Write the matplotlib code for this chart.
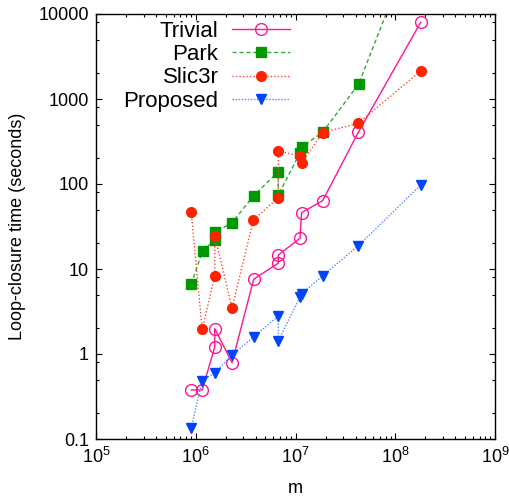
import numpy as np
import matplotlib
matplotlib.use("Agg")
import matplotlib.pyplot as plt
from matplotlib.ticker import LogLocator, FixedLocator, FixedFormatter, NullFormatter

plt.rcParams["font.family"] = ["Liberation Sans", "DejaVu Sans"]
plt.rcParams["mathtext.fontset"] = "custom"
plt.rcParams["mathtext.rm"] = "Liberation Sans"
plt.rcParams["mathtext.it"] = "Liberation Sans:italic"

# data (m, seconds)
trivial_m = [9.0e5, 1.16e6, 1.55e6, 1.55e6, 2.31e6, 3.81e6, 6.72e6, 6.72e6,
             1.11e7, 1.15e7, 1.87e7, 4.26e7, 1.8e8]
trivial_t = [0.377, 0.377, 1.21, 1.99, 0.79, 7.6, 11.7, 14.6,
             23.0, 46.0, 63.6, 405, 7980]

park_m = [9.0e5, 1.17e6, 1.56e6, 1.56e6, 2.31e6, 3.81e6, 6.72e6, 6.72e6,
          1.11e7, 1.16e7, 1.87e7, 4.3e7, 1.8e8]
park_t = [6.6, 16.4, 21.9, 27.0, 35.0, 72.8, 139.6, 74.3,
          233, 275, 405, 1500, 1.1e5]

slic3r_m = [9.0e5, 1.16e6, 1.55e6, 1.55e6, 2.31e6, 3.78e6, 6.72e6, 6.72e6,
            1.11e7, 1.15e7, 1.87e7, 4.26e7, 1.8e8]
slic3r_t = [47.2, 1.95, 8.3, 24.7, 3.48, 37.7, 69.0, 246,
            213, 175, 402, 518, 2135]

proposed_m = [9.0e5, 1.16e6, 1.55e6, 2.31e6, 3.81e6, 6.72e6, 6.72e6,
              1.11e7, 1.15e7, 1.87e7, 4.26e7, 1.8e8]
proposed_t = [0.136, 0.485, 0.60, 0.98, 1.58, 2.8, 1.43,
              4.7, 5.1, 8.3, 18.8, 97]

y_ticks = [0.1, 1, 10, 100, 1000, 10000]
y_tick_labels = ["0.1", "1", "10", "100", "1000", "10000"]
x_ticks = [1e5, 1e6, 1e7, 1e8, 1e9]
x_tick_labels = ["$10^{5}$", "$10^{6}$", "$10^{7}$", "$10^{8}$", "$10^{9}$"]

fig = plt.figure(figsize=(5.09, 4.99), dpi=100)
ax = fig.add_axes([96 / 509, 1 - 439 / 499, 399 / 509, 425 / 499])

ax.plot(trivial_m, trivial_t, color="#ff1493", lw=1.0, ls="-",
        marker="o", ms=8.5, mfc="none", mec="#ff1493", mew=1.0, label="Trivial")
ax.plot(park_m, park_t, color="#33aa33", lw=1.0, ls=(0, (3, 2)),
        marker="s", ms=7.5, mfc="#009900", mec="#009900", label="Park")
ax.plot(slic3r_m, slic3r_t, color="#ff4433", lw=1.0, ls=(0, (1, 1.5)),
        marker="o", ms=7, mfc="#ff2200", mec="#ff2200", label="Slic3r")
ax.plot(proposed_m, proposed_t, color="#5588ff", lw=1.0, ls=(0, (1, 1.2)),
        marker="v", ms=7, mfc="#0044ff", mec="#0044ff", label="Proposed")

ax.set_xscale("log")
ax.set_yscale("log")
ax.set_xlim(1e5, 1e9)
ax.set_ylim(0.1, 10000)

ax.xaxis.set_major_locator(FixedLocator(x_ticks))
ax.xaxis.set_major_formatter(FixedFormatter(x_tick_labels))
ax.xaxis.set_minor_locator(LogLocator(base=10, subs=np.arange(2, 10)))
ax.xaxis.set_minor_formatter(NullFormatter())
ax.yaxis.set_major_locator(FixedLocator(y_ticks))
ax.yaxis.set_major_formatter(FixedFormatter(y_tick_labels))
ax.yaxis.set_minor_locator(LogLocator(base=10, subs=[2, 5, 8]))
ax.yaxis.set_minor_formatter(NullFormatter())

ax.tick_params(which="both", direction="in", top=True, right=True, labelsize=13)
ax.tick_params(which="major", length=4, width=0.8)
ax.tick_params(which="minor", length=2.2, width=0.8)
ax.tick_params(axis="x", which="major", pad=6)
ax.tick_params(axis="y", which="major", pad=5)
for s in ax.spines.values():
    s.set_linewidth(1.0)

ax.set_xlabel("m", fontsize=13, labelpad=9)
ax.set_ylabel("Loop-closure time (seconds)", fontsize=13, labelpad=9)

ax.legend(loc="upper right", bbox_to_anchor=(290 / 509, 1 - 21 / 499),
          bbox_transform=fig.transFigure, frameon=False, markerfirst=False,
          fontsize=16, handlelength=2.6, handletextpad=0.62,
          labelspacing=0.1, borderpad=0, borderaxespad=0)

fig.savefig("out.png", dpi=100)
